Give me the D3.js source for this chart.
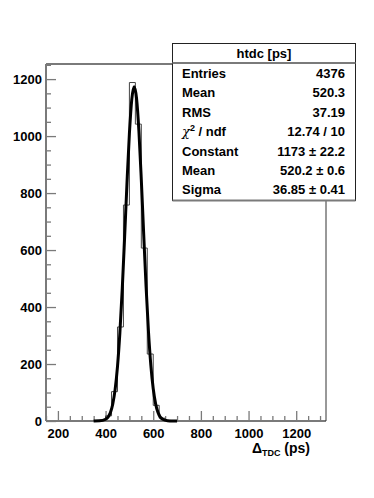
<!DOCTYPE html>
<html>
<head>
<meta charset="utf-8">
<script src="https://cdn.jsdelivr.net/npm/d3@7"></script>
<style>
  body { margin: 0; background: #fff; }
  text { font-family: "Liberation Sans", Arial, sans-serif; font-weight: bold; fill: #000; }
</style>
</head>
<body>
<div class="chart"></div>
<script>
var svgWidth = 374;
var svgHeight = 498;

// histogram bins (lower edge, ps) and counts, bin width 25 ps
var binEdges = [350, 375, 400, 425, 450, 475, 500, 525, 550, 575, 600, 625, 650, 675];
var binCounts = [1, 3, 18, 103, 330, 758, 1188, 1042, 607, 235, 55, 10, 2, 1];
var binWidth = 25;

// gaussian fit curve
var fitX = [350, 375, 400, 420, 430, 440, 450, 460, 470, 480, 490, 500, 510, 520, 530, 540, 550, 560, 570, 580, 590, 600, 610, 620, 640, 660, 680, 700];
var fitY = [0, 0.5, 6, 29, 59, 110, 191, 309, 464, 647, 838, 1009, 1129, 1173, 1132, 1016, 846, 655, 471, 314, 195, 113, 60, 30, 6, 1, 0, 0];

var xTicks = [200, 400, 600, 800, 1000, 1200];
var yTicks = [0, 200, 400, 600, 800, 1000, 1200];

var statTitle = "htdc [ps]";
var statLabels = ["Entries", "Mean", "RMS", "chi2", "Constant", "Mean", "Sigma"];
var statValues = ["4376", "520.3", "37.19", "12.74 / 10", "1173 \u00b1 22.2", "520.2 \u00b1 0.6", "36.85 \u00b1 0.41"];

var frame = { left: 46, right: 326, top: 64, bottom: 421 };
var axisColor = "#7a7a7a";

var svg = d3.select(".chart")
  .append("svg")
    .attr("width", svgWidth)
    .attr("height", svgHeight);

var x = d3.scaleLinear().domain([150, 1325]).range([frame.left, frame.right]);
var y = d3.scaleLinear().domain([0, 1253]).range([frame.bottom, frame.top]);

// minor ticks every 50
var xMinor = d3.range(150, 1326, 50).filter(function(v) { return xTicks.indexOf(v) < 0; });
var yMinor = d3.range(0, 1251, 50).filter(function(v) { return yTicks.indexOf(v) < 0; });

svg.append("g")
  .attr("transform", "translate(0," + frame.bottom + ")")
  .call(d3.axisBottom(x).tickValues(xMinor).tickSize(-5).tickFormat(""));
var xAxis = svg.append("g")
  .attr("transform", "translate(0," + frame.bottom + ")")
  .call(d3.axisBottom(x).tickValues(xTicks).tickSize(-10).tickPadding(5).tickFormat(d3.format("d")));

svg.append("g")
  .attr("transform", "translate(" + frame.left + ",0)")
  .call(d3.axisLeft(y).tickValues(yMinor).tickSize(-5).tickFormat(""));
var yAxis = svg.append("g")
  .attr("transform", "translate(" + frame.left + ",0)")
  .call(d3.axisLeft(y).tickValues(yTicks).tickSize(-10).tickPadding(3).tickFormat(d3.format("d")));

svg.selectAll(".domain").remove();
svg.selectAll(".tick line").attr("stroke", axisColor).attr("stroke-width", 1.3);
xAxis.selectAll("text").attr("font-size", 13).attr("dy", "0.71em").attr("y", 8)
  .style("font-family", "Liberation Sans, Arial, sans-serif").style("font-weight", "bold");
yAxis.selectAll("text").attr("font-size", 13).attr("x", -4)
  .style("font-family", "Liberation Sans, Arial, sans-serif").style("font-weight", "bold");

// frame lines
svg.append("line").attr("x1", frame.left).attr("x2", frame.right).attr("y1", frame.bottom).attr("y2", frame.bottom)
  .attr("stroke", axisColor).attr("stroke-width", 2);
svg.append("line").attr("x1", frame.left).attr("x2", frame.left).attr("y1", frame.top).attr("y2", frame.bottom)
  .attr("stroke", axisColor).attr("stroke-width", 2);
svg.append("line").attr("x1", frame.left).attr("x2", frame.right).attr("y1", frame.top).attr("y2", frame.top)
  .attr("stroke", axisColor).attr("stroke-width", 2);
svg.append("line").attr("x1", frame.right).attr("x2", frame.right).attr("y1", frame.top).attr("y2", frame.bottom)
  .attr("stroke", "#333").attr("stroke-width", 1);

// histogram as steps
var stepPts = [];
binEdges.forEach(function(e, i) {
  stepPts.push([e, binCounts[i]]);
});
stepPts.push([binEdges[binEdges.length - 1] + binWidth, 0]);
var stepLine = d3.line()
  .x(function(d) { return x(d[0]); })
  .y(function(d) { return y(d[1]); })
  .curve(d3.curveStepAfter);
svg.append("path")
  .datum([[binEdges[0], 0]].concat(stepPts))
  .attr("d", stepLine)
  .attr("fill", "none")
  .attr("stroke", "#444")
  .attr("stroke-width", 1);

// fit curve
var fitLine = d3.line()
  .x(function(d, i) { return x(fitX[i]); })
  .y(function(d) { return y(d); })
  .curve(d3.curveMonotoneX);
svg.append("path")
  .datum(fitY)
  .attr("d", fitLine)
  .attr("fill", "none")
  .attr("stroke", "#000")
  .attr("stroke-width", 3);

// stats box
var box = { x: 172.5, y: 43.5, w: 183, h: 157, header: 19.5 };
svg.append("rect")
  .attr("x", box.x).attr("y", box.y).attr("width", box.w).attr("height", box.h)
  .attr("fill", "#fff").attr("stroke", "#222").attr("stroke-width", 1);
svg.append("line")
  .attr("x1", box.x).attr("x2", box.x + box.w).attr("y1", box.y + box.header).attr("y2", box.y + box.header)
  .attr("stroke", axisColor).attr("stroke-width", 2);
svg.append("line")
  .attr("x1", box.x).attr("x2", box.x + box.w).attr("y1", box.y + box.h).attr("y2", box.y + box.h)
  .attr("stroke", axisColor).attr("stroke-width", 2);
svg.append("text")
  .attr("x", box.x + box.w / 2).attr("y", box.y + 14.5)
  .attr("text-anchor", "middle").attr("font-size", 13)
  .text(statTitle);

statLabels.forEach(function(lab, i) {
  var yy = box.y + 34.5 + i * 19.4;
  var t = svg.append("text").attr("x", 182).attr("y", yy).attr("font-size", 13);
  if (lab === "chi2") {
    t.append("tspan").style("font-family", "DejaVu Serif, serif").style("font-style", "italic")
      .style("font-weight", "normal").text("\u03c7");
    t.append("tspan").attr("font-size", 9).attr("dy", -5).text("2");
    t.append("tspan").attr("dy", 5).text(" / ndf");
  } else {
    t.text(lab);
  }
  svg.append("text").attr("x", 345).attr("y", yy).attr("text-anchor", "end")
    .attr("font-size", 13).text(statValues[i]);
});

// x axis title
var title = svg.append("text").attr("x", 310).attr("y", 453).attr("text-anchor", "end").attr("font-size", 14);
title.append("tspan").text("\u0394");
title.append("tspan").attr("font-size", 9).attr("dy", 3).text("TDC");
title.append("tspan").attr("dy", -3).text(" (ps)");
</script>
</body>
</html>
